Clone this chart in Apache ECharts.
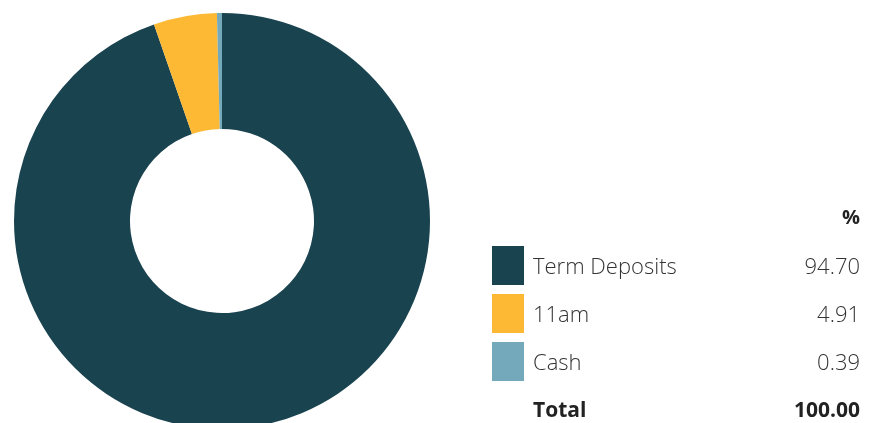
<!DOCTYPE html>
<html><head><meta charset="utf-8">
<script src="https://cdn.jsdelivr.net/npm/echarts@6/dist/echarts.min.js"></script>
<style>html,body{margin:0;padding:0;background:#fff}#c{width:875px;height:423px}</style>
</head><body><div id="c"></div>
<script>
const categories = ['Term Deposits', '11am', 'Cash'];
const values = [94.70, 4.91, 0.39];
const valueLabels = ['94.70', '4.91', '0.39'];
const colors = ['#1a4350', '#fdb933', '#74a9bb'];
const headerLabel = '%';
const totalLabel = 'Total';
const totalValue = '100.00';

const FONT = '"Open Sans"';
const chart = echarts.init(document.getElementById('c'));
chart.setOption({
  animation: false,
  color: colors,
  legend: {
    orient: 'vertical',
    left: 492,
    top: 246,
    padding: 0,
    icon: 'rect',
    itemWidth: 32,
    itemHeight: 39,
    itemGap: 9,
    selectedMode: false,
    data: categories,
    formatter: function (name) {
      const i = categories.indexOf(name);
      return '{n|' + name + '}{v|' + valueLabels[i] + '}';
    },
    textStyle: {
      rich: {
        n: { width: 258, fontFamily: FONT, fontSize: 22, fontWeight: 300, color: '#333', padding: [4, 0, 0, 4] },
        v: { width: 69, align: 'right', fontFamily: FONT, fontSize: 22, fontWeight: 300, color: '#333', padding: [4, 0, 0, 0] }
      }
    }
  },
  graphic: [
    { type: 'text', right: 15, top: 208, style: { text: headerLabel, font: 'bold 20px ' + FONT, fill: '#222' } },
    { type: 'text', left: 533, top: 401, style: { text: totalLabel, font: 'bold 21px ' + FONT, fill: '#222' } },
    { type: 'text', right: 15, top: 401, style: { text: totalValue, font: 'bold 21px ' + FONT, fill: '#222' } }
  ],
  series: [{
    type: 'pie',
    center: [222, 221],
    radius: [92, 208],
    startAngle: 90,
    clockwise: true,
    label: { show: false },
    labelLine: { show: false },
    emphasis: { disabled: true },
    itemStyle: { borderWidth: 0 },
    data: categories.map((c, i) => ({ name: c, value: values[i] }))
  }]
});
</script></body></html>
